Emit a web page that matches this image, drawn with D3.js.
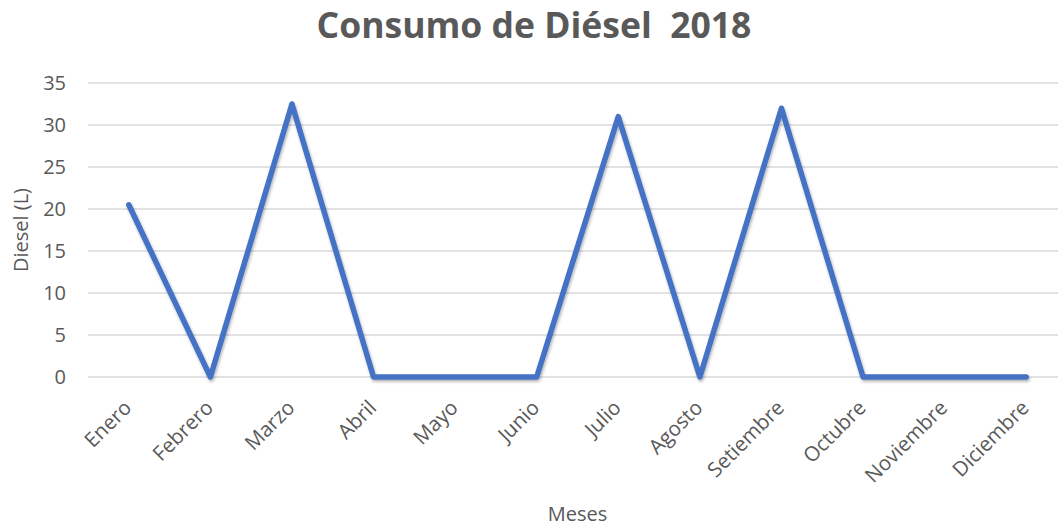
<!DOCTYPE html>
<html>
<head>
<meta charset="utf-8">
<script src="https://cdn.jsdelivr.net/npm/d3@7"></script>
<style>
  body { margin: 0; background: #fff; }
  svg text { font-family: "Open Sans", sans-serif; fill: #595959; }
</style>
</head>
<body>
<div id="chart"></div>
<script>
// data
const months = ['Enero', 'Febrero', 'Marzo', 'Abril', 'Mayo', 'Junio',
  'Julio', 'Agosto', 'Setiembre', 'Octubre', 'Noviembre', 'Diciembre'];
const diesel = [20.5, 0, 32.5, 0, 0, 0, 31, 0, 32, 0, 0, 0];
const yTicks = [0, 5, 10, 15, 20, 25, 30, 35];

const width = 1058;
const height = 527;
const margin = { top: 83, right: -9, bottom: 150, left: 88 };

const svg = d3.select('#chart').append('svg')
  .attr('width', width)
  .attr('height', height);

const x = d3.scaleBand()
  .domain(months)
  .range([margin.left, width - margin.right]);

const y = d3.scaleLinear()
  .domain([0, 35])
  .range([height - margin.bottom, margin.top]);

// gridlines
svg.append('g')
  .selectAll('line')
  .data(yTicks)
  .join('line')
  .attr('x1', margin.left)
  .attr('x2', width)
  .attr('y1', d => y(d))
  .attr('y2', d => y(d))
  .attr('stroke', '#d9d9d9')
  .attr('stroke-width', 1.3);

// y axis
const yAxis = d3.axisLeft(y).tickValues(yTicks).tickSize(0).tickPadding(22);
svg.append('g')
  .attr('transform', 'translate(' + margin.left + ',0)')
  .call(yAxis)
  .call(g => g.select('.domain').remove())
  .selectAll('text')
  .style('font-size', '20px')
  .attr('fill', '#595959');

// x axis, labels turned 45 degrees
const xAxis = d3.axisBottom(x).tickSize(0);
svg.append('g')
  .attr('transform', 'translate(0,' + y(0) + ')')
  .call(xAxis)
  .call(g => g.select('.domain').remove())
  .selectAll('text')
  .style('font-size', '20.5px')
  .attr('fill', '#595959')
  .attr('text-anchor', 'end')
  .attr('dy', 0)
  .attr('y', 0)
  .attr('transform', 'translate(4,32) rotate(-45)');

// shadow for the line
const defs = svg.append('defs');
const f = defs.append('filter').attr('id', 'shadow')
  .attr('x', '-5%').attr('y', '-5%').attr('width', '110%').attr('height', '115%');
f.append('feDropShadow')
  .attr('dx', 1).attr('dy', 2).attr('stdDeviation', 1.5)
  .attr('flood-color', '#000').attr('flood-opacity', 0.3);

const line = d3.line()
  .x((d, i) => x(months[i]) + x.bandwidth() / 2)
  .y(d => y(d));

svg.append('path')
  .datum(diesel)
  .attr('d', line)
  .attr('fill', 'none')
  .attr('stroke', '#4472c4')
  .attr('stroke-width', 5.5)
  .attr('stroke-linejoin', 'round')
  .attr('stroke-linecap', 'round')
  .attr('filter', 'url(#shadow)');

// title
svg.append('text')
  .attr('x', 534)
  .attr('y', 38)
  .attr('text-anchor', 'middle')
  .style('font-size', '35.5px')
  .style('font-weight', 'bold')
  .style('white-space', 'pre')
  .text('Consumo de Diésel  2018');

// axis titles
svg.append('text')
  .attr('transform', 'translate(28,' + y(17.5) + ') rotate(-90)')
  .attr('text-anchor', 'middle')
  .style('font-size', '20px')
  .text('Diesel (L)');

svg.append('text')
  .attr('x', (margin.left + width - margin.right) / 2)
  .attr('y', 521)
  .attr('text-anchor', 'middle')
  .style('font-size', '20px')
  .text('Meses');
</script>
</body>
</html>
